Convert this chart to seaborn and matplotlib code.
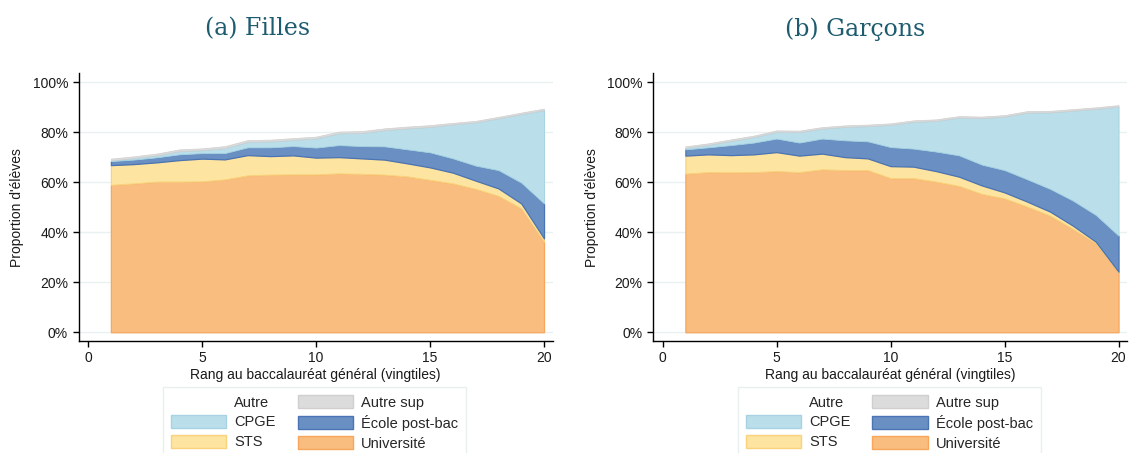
import numpy as np
import matplotlib
matplotlib.use("Agg")
import matplotlib.pyplot as plt
from matplotlib.patches import Patch
from matplotlib.ticker import PercentFormatter
import seaborn as sns

# Rang au bac (vingtiles)
vingtiles = list(range(1, 21))

# Filles : parts en % de chaque filière
filles_univ = [58.9, 59.5, 60.2, 60.2, 60.3, 61.1, 62.7, 63.0, 63.1, 63.1,
               63.5, 63.3, 63.0, 62.3, 60.9, 59.5, 57.3, 54.5, 49.5, 36.2]
filles_sts = [7.9, 7.7, 7.7, 8.6, 9.1, 8.0, 8.1, 7.4, 7.6, 6.7,
              6.5, 6.2, 6.0, 5.2, 5.0, 4.3, 3.3, 3.0, 2.0, 1.3]
filles_ecole = [1.6, 1.8, 2.0, 2.3, 2.2, 2.5, 3.1, 3.5, 3.7, 4.0,
                4.8, 4.9, 5.3, 5.6, 6.0, 5.7, 6.0, 7.3, 8.3, 14.0]
filles_cpge = [0.3, 0.6, 0.8, 1.3, 1.2, 2.0, 2.2, 2.4, 2.5, 3.7,
               4.7, 5.3, 6.5, 8.4, 10.2, 13.6, 17.3, 20.7, 27.4, 37.3]
filles_autresup = [0.7, 0.7, 0.7, 0.7, 0.7, 0.8, 0.7, 0.7, 0.7, 0.7,
                   0.7, 0.7, 0.7, 0.7, 0.7, 0.6, 0.6, 0.6, 0.6, 0.6]

# Garçons
garcons_univ = [63.4, 64.0, 63.9, 64.0, 64.4, 64.0, 65.1, 64.8, 64.8, 61.6,
                61.6, 60.2, 58.5, 55.3, 53.5, 50.2, 46.6, 41.3, 35.6, 24.0]
garcons_sts = [7.2, 7.1, 6.9, 7.1, 7.6, 6.6, 6.3, 5.2, 4.7, 4.8,
               4.6, 4.2, 3.7, 3.4, 2.4, 2.0, 1.6, 1.3, 0.6, 0.2]
garcons_ecole = [2.5, 2.8, 4.0, 4.7, 5.4, 5.2, 6.0, 6.7, 6.8, 7.6,
                 7.2, 7.8, 8.5, 8.3, 8.9, 8.9, 9.1, 10.0, 10.7, 14.4]
garcons_cpge = [0.6, 1.0, 1.7, 2.2, 2.7, 4.2, 4.0, 5.4, 6.1, 8.9,
                10.7, 12.3, 15.1, 18.6, 21.4, 26.7, 30.6, 36.0, 42.4, 51.6]
garcons_autresup = [0.6] * 20

filieres = ["Université", "STS", "École post-bac", "CPGE", "Autre sup"]
faces = ["#f9bd80", "#fde4a1", "#6a90c3", "#badfea", "#dcdcdc"]
edges = ["#f7a65c", "#f8d27c", "#4a74b4", "#a6d2e2", "#cfcfcf"]
epaisseurs = [0.9, 0.8, 0.9, 0.7, 0.5]

sns.set_theme(style="ticks")
plt.rcParams["font.family"] = ["Liberation Sans", "DejaVu Sans"]

fig = plt.figure(figsize=(11.29, 4.53), dpi=100)
ax1 = fig.add_axes([78.5 / 1129, 112 / 453, 474.2 / 1129, 267.7 / 453])
ax2 = fig.add_axes([653 / 1129, 112 / 453, 474.2 / 1129, 267.7 / 453])


def panneau(ax, series):
    bas = np.zeros(len(vingtiles))
    for vals, fc, ec, lw in zip(series, faces, edges, epaisseurs):
        haut = bas + np.array(vals)
        ax.fill_between(vingtiles, bas, haut, facecolor=fc, edgecolor=ec,
                        linewidth=lw, zorder=2)
        bas = haut
    ax.set_xlim(-0.42, 20.38)
    ax.set_ylim(-3.5, 103.5)
    ax.set_xticks([0, 5, 10, 15, 20])
    ax.set_yticks([0, 20, 40, 60, 80, 100])
    ax.yaxis.set_major_formatter(PercentFormatter(decimals=0))
    ax.yaxis.grid(True, color="#e9f1f2", linewidth=1)
    ax.set_axisbelow(True)
    sns.despine(ax=ax)
    for s in ["left", "bottom"]:
        ax.spines[s].set_color("black")
        ax.spines[s].set_linewidth(1)
    ax.tick_params(axis="both", labelsize=10, length=4.5, width=1,
                   color="black", labelcolor="#1a1a1a", pad=3)
    ax.set_xlabel("Rang au baccalauréat général (vingtiles)", fontsize=10,
                  color="#1a1a1a", labelpad=2)
    ax.set_ylabel("Proportion d'élèves", fontsize=10, color="#1a1a1a",
                  labelpad=6)

    handles = [Patch(facecolor="white", edgecolor="white"),
               Patch(facecolor=faces[3], edgecolor=edges[3]),
               Patch(facecolor=faces[1], edgecolor=edges[1]),
               Patch(facecolor=faces[4], edgecolor=edges[4]),
               Patch(facecolor=faces[2], edgecolor=edges[2]),
               Patch(facecolor=faces[0], edgecolor=edges[0])]
    labels = ["Autre", "CPGE", "STS", "Autre sup", "École post-bac", "Université"]
    x0 = ax.get_position().x0
    leg = ax.legend(handles, labels, ncol=2, loc="upper left",
                    bbox_to_anchor=(x0 + 84.5 / 1129, 1 - 387 / 453),
                    bbox_transform=fig.transFigure, fontsize=10.5,
                    frameon=True, fancybox=False, borderaxespad=0,
                    handlelength=3.8, handleheight=1.0, handletextpad=0.55,
                    columnspacing=1.5, labelspacing=0.37, borderpad=0.55)
    leg.get_frame().set_edgecolor("#e2ecec")
    leg.get_frame().set_linewidth(1)


panneau(ax1, [filles_univ, filles_sts, filles_ecole, filles_cpge, filles_autresup])
panneau(ax2, [garcons_univ, garcons_sts, garcons_ecole, garcons_cpge, garcons_autresup])

fig.text(257.5 / 1129, 1 - 29 / 453, "(a) Filles", ha="center", va="center",
         fontsize=17, family="DejaVu Serif", color="#1d5b6f")
fig.text(855 / 1129, 1 - 29 / 453, "(b) Garçons", ha="center", va="center",
         fontsize=17, family="DejaVu Serif", color="#1d5b6f")

fig.savefig("out.png", dpi=100)
